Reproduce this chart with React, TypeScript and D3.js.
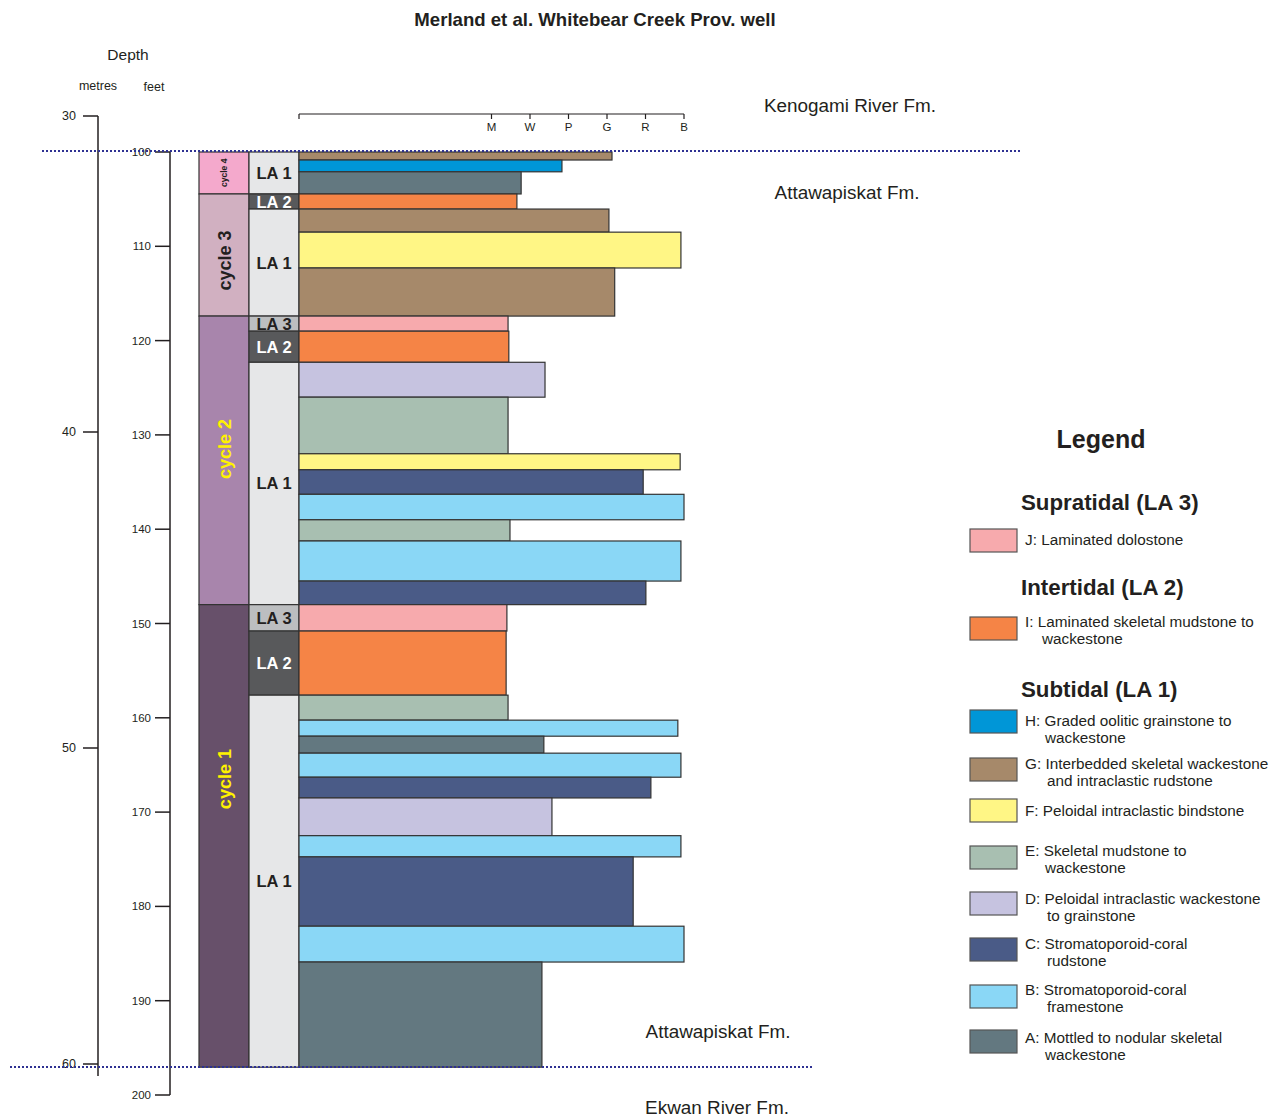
import React from 'react'
import * as d3 from 'd3'

// bed boundaries in feet (top of first bed .. base of last bed)
const bedBounds = [100, 100.85, 102.1, 104.45, 106.05, 108.5, 112.3, 117.4, 119, 122.3, 126, 132, 133.7, 136.3, 139, 141.25, 145.5, 148, 150.8, 157.6, 160.25, 161.95, 163.75, 166.3, 168.5, 172.5, 174.75, 182.1, 185.9, 197.05]
const bedFacies = ['G', 'H', 'A', 'I', 'G', 'F', 'G', 'J', 'I', 'D', 'E', 'F', 'C', 'B', 'E', 'B', 'C', 'J', 'I', 'E', 'B', 'A', 'B', 'C', 'D', 'B', 'C', 'B', 'A']
// texture index: M=5 W=6 P=7 G=8 R=9 B=10
const bedTexture = [8.13, 6.83, 5.77, 5.66, 8.05, 9.92, 8.2, 5.43, 5.45, 6.39, 5.43, 9.9, 8.94, 10, 5.48, 9.92, 9.01, 5.4, 5.38, 5.43, 9.84, 6.36, 9.92, 9.14, 6.57, 9.92, 8.68, 10, 6.31]

const textureLabels = ['M', 'W', 'P', 'G', 'R', 'B']
const textureValues = [5, 6, 7, 8, 9, 10]

const cycleNames = ['cycle 4', 'cycle 3', 'cycle 2', 'cycle 1']
const cycleBounds = [100, 104.45, 117.4, 148, 197.05]
const cycleLabelDepth = [102.2, 111.5, 131.5, 166.5]
const cycleColors = ['#f4a9cc', '#d1b0c1', '#a885ac', '#67506a']

const laNames = ['LA 1', 'LA 2', 'LA 1', 'LA 3', 'LA 2', 'LA 1', 'LA 3', 'LA 2', 'LA 1']
const laBounds = [100, 104.45, 106.05, 117.4, 119, 122.3, 148, 150.8, 157.6, 197.05]

const feetTicks = [100, 110, 120, 130, 140, 150, 160, 170, 180, 190, 200]
const metreTicks = [30, 40, 50, 60]

const faciesColors: Record<string, string> = {
  J: '#f7aaad',
  I: '#f58446',
  H: '#0096d7',
  G: '#a6896a',
  F: '#fff685',
  E: '#a8bfb1',
  D: '#c6c3e0',
  C: '#4a5b87',
  B: '#8ad7f6',
  A: '#637880'
}

const legendGroups = [
  { title: 'Supratidal (LA 3)', items: [['J', 'J: Laminated dolostone']] },
  { title: 'Intertidal (LA 2)', items: [['I', 'I: Laminated skeletal mudstone to', 'wackestone']] },
  {
    title: 'Subtidal (LA 1)',
    items: [
      ['H', 'H: Graded oolitic grainstone to', 'wackestone'],
      ['G', 'G: Interbedded skeletal wackestone', 'and intraclastic rudstone'],
      ['F', 'F: Peloidal intraclastic bindstone'],
      ['E', 'E: Skeletal mudstone to', 'wackestone'],
      ['D', 'D: Peloidal intraclastic wackestone', 'to grainstone'],
      ['C', 'C: Stromatoporoid-coral', 'rudstone'],
      ['B', 'B: Stromatoporoid-coral', 'framestone'],
      ['A', 'A: Mottled to nodular skeletal', 'wackestone']
    ]
  }
]

const W = 1277
const H = 1117
const font = '"Liberation Sans", Arial, sans-serif'
const ink = '#231f20'

const App: React.FC = () => {
  const y = d3.scaleLinear().domain([100, 200]).range([152, 1095])
  const yM = d3.scaleLinear().domain([30, 60]).range([116, 1064])
  const x = d3.scaleLinear().domain([0, 10]).range([299, 684])

  const cycleX = 199
  const laX = 249
  const colW = 50

  const laFill = (n: string) => (n === 'LA 1' ? '#e6e7e8' : n === 'LA 2' ? '#58595b' : '#bcbec0')

  // legend layout
  const swatchY = [529, 617, 710, 758, 799, 846, 892, 938, 985, 1030]
  const textY = [540, 622, 721, 764, 811, 851, 899, 944, 990, 1038]
  const indent = [0, 17, 20, 22, 0, 20, 22, 22, 22, 20]
  const headingY = [502, 587, 689]
  let k = 0

  return (
    <svg width={W} height={H} style={{ position: 'absolute', left: 0, top: 0, display: 'block', background: '#fff' }} fontFamily={font}>
      <text x={595} y={26} textAnchor="middle" fontSize={18.6} fontWeight="bold" fill={ink}>
        Merland et al. Whitebear Creek Prov. well
      </text>

      <text x={128} y={60} textAnchor="middle" fontSize={15.5} fill={ink}>Depth</text>
      <text x={98} y={90} textAnchor="middle" fontSize={12.5} fill={ink}>metres</text>
      <text x={154} y={91} textAnchor="middle" fontSize={12.5} fill={ink}>feet</text>

      {/* metres axis */}
      <line x1={98} x2={98} y1={yM(30)} y2={1076} stroke={ink} strokeWidth={1.5} />
      {metreTicks.map(t => (
        <g key={t}>
          <line x1={83} x2={98} y1={yM(t)} y2={yM(t)} stroke={ink} strokeWidth={1.5} />
          <text x={76} y={yM(t) + 4} textAnchor="end" fontSize={12.5} fill={ink}>{t}</text>
        </g>
      ))}

      {/* feet axis */}
      <line x1={170} x2={170} y1={y(100)} y2={y(200)} stroke={ink} strokeWidth={1.5} />
      {feetTicks.map(t => (
        <g key={t}>
          <line x1={155} x2={170} y1={y(t)} y2={y(t)} stroke={ink} strokeWidth={1.5} />
          <text x={151} y={y(t) + 4} textAnchor="end" fontSize={11.5} fill={ink}>{t}</text>
        </g>
      ))}

      {/* texture axis */}
      <line x1={x(0)} x2={x(10)} y1={114} y2={114} stroke={ink} strokeWidth={1.2} />
      <line x1={x(0)} x2={x(0)} y1={114} y2={119} stroke={ink} strokeWidth={1.2} />
      {textureValues.map((v, i) => (
        <g key={v}>
          <line x1={x(v)} x2={x(v)} y1={114} y2={119} stroke={ink} strokeWidth={1.2} />
          <text x={x(v)} y={131} textAnchor="middle" fontSize={11.5} fill={ink}>{textureLabels[i]}</text>
        </g>
      ))}

      {/* cycles */}
      {cycleNames.map((n, i) => {
        const y0 = y(cycleBounds[i])
        const y1 = y(cycleBounds[i + 1])
        const cy = y(cycleLabelDepth[i])
        const small = n === 'cycle 4'
        const yellow = i >= 2
        return (
          <g key={n}>
            <rect x={cycleX} y={y0} width={colW} height={y1 - y0} fill={cycleColors[i]} stroke="#333" strokeWidth={1.2} />
            <text
              transform={`translate(${cycleX + colW / 2 + (small ? 3 : 6.5)},${cy}) rotate(-90)`}
              textAnchor="middle"
              fontSize={small ? 8.5 : 18}
              fontWeight="bold"
              fill={yellow ? '#fff200' : ink}
            >
              {n}
            </text>
          </g>
        )
      })}

      {/* lithofacies associations */}
      {laNames.map((n, i) => {
        const y0 = y(laBounds[i])
        const y1 = y(laBounds[i + 1])
        return (
          <g key={i}>
            <rect x={laX} y={y0} width={colW} height={y1 - y0} fill={laFill(n)} stroke="#333" strokeWidth={1.2} />
            <text x={laX + colW / 2} y={(y0 + y1) / 2 + 6} textAnchor="middle" fontSize={16.5} fontWeight="bold" fill={n === 'LA 2' ? '#fff' : ink}>
              {n}
            </text>
          </g>
        )
      })}

      {/* beds */}
      {bedFacies.map((f, i) => (
        <rect
          key={i}
          x={x(0)}
          y={y(bedBounds[i])}
          width={x(bedTexture[i]) - x(0)}
          height={y(bedBounds[i + 1]) - y(bedBounds[i])}
          fill={faciesColors[f]}
          stroke="#333"
          strokeWidth={1.2}
        />
      ))}

      {/* formation boundaries */}
      <line x1={42} x2={1020} y1={151} y2={151} stroke="#2e3192" strokeWidth={2} strokeDasharray="2 2" />
      <line x1={10} x2={812} y1={1067} y2={1067} stroke="#2e3192" strokeWidth={2} strokeDasharray="2 2" />

      <text x={850} y={112} textAnchor="middle" fontSize={18.9} fill={ink}>Kenogami River Fm.</text>
      <text x={847} y={199} textAnchor="middle" fontSize={18.9} fill={ink}>Attawapiskat Fm.</text>
      <text x={718} y={1038} textAnchor="middle" fontSize={18.9} fill={ink}>Attawapiskat Fm.</text>
      <text x={717} y={1114} textAnchor="middle" fontSize={18.9} fill={ink}>Ekwan River Fm.</text>

      {/* legend */}
      <text x={1101} y={448} textAnchor="middle" fontSize={25} fontWeight="bold" fill={ink}>Legend</text>
      {legendGroups.map((g, gi) => (
        <g key={g.title}>
          <text x={1021} y={headingY[gi] + 8} fontSize={22.3} fontWeight="bold" fill={ink}>{g.title}</text>
          {g.items.map(it => {
            const sy = swatchY[k]
            const ty = textY[k]
            const ind = indent[k]
            k++
            return (
              <g key={it[0]}>
                <rect x={970} y={sy} width={47} height={23} fill={faciesColors[it[0]]} stroke="#555" strokeWidth={1.2} />
                <text x={1025} y={ty + 5} fontSize={15.3} fill={ink}>{it[1]}</text>
                {it[2] && (
                  <text x={1025 + ind} y={ty + 22} fontSize={15.3} fill={ink}>{it[2]}</text>
                )}
              </g>
            )
          })}
        </g>
      ))}
    </svg>
  )
}

export default App
